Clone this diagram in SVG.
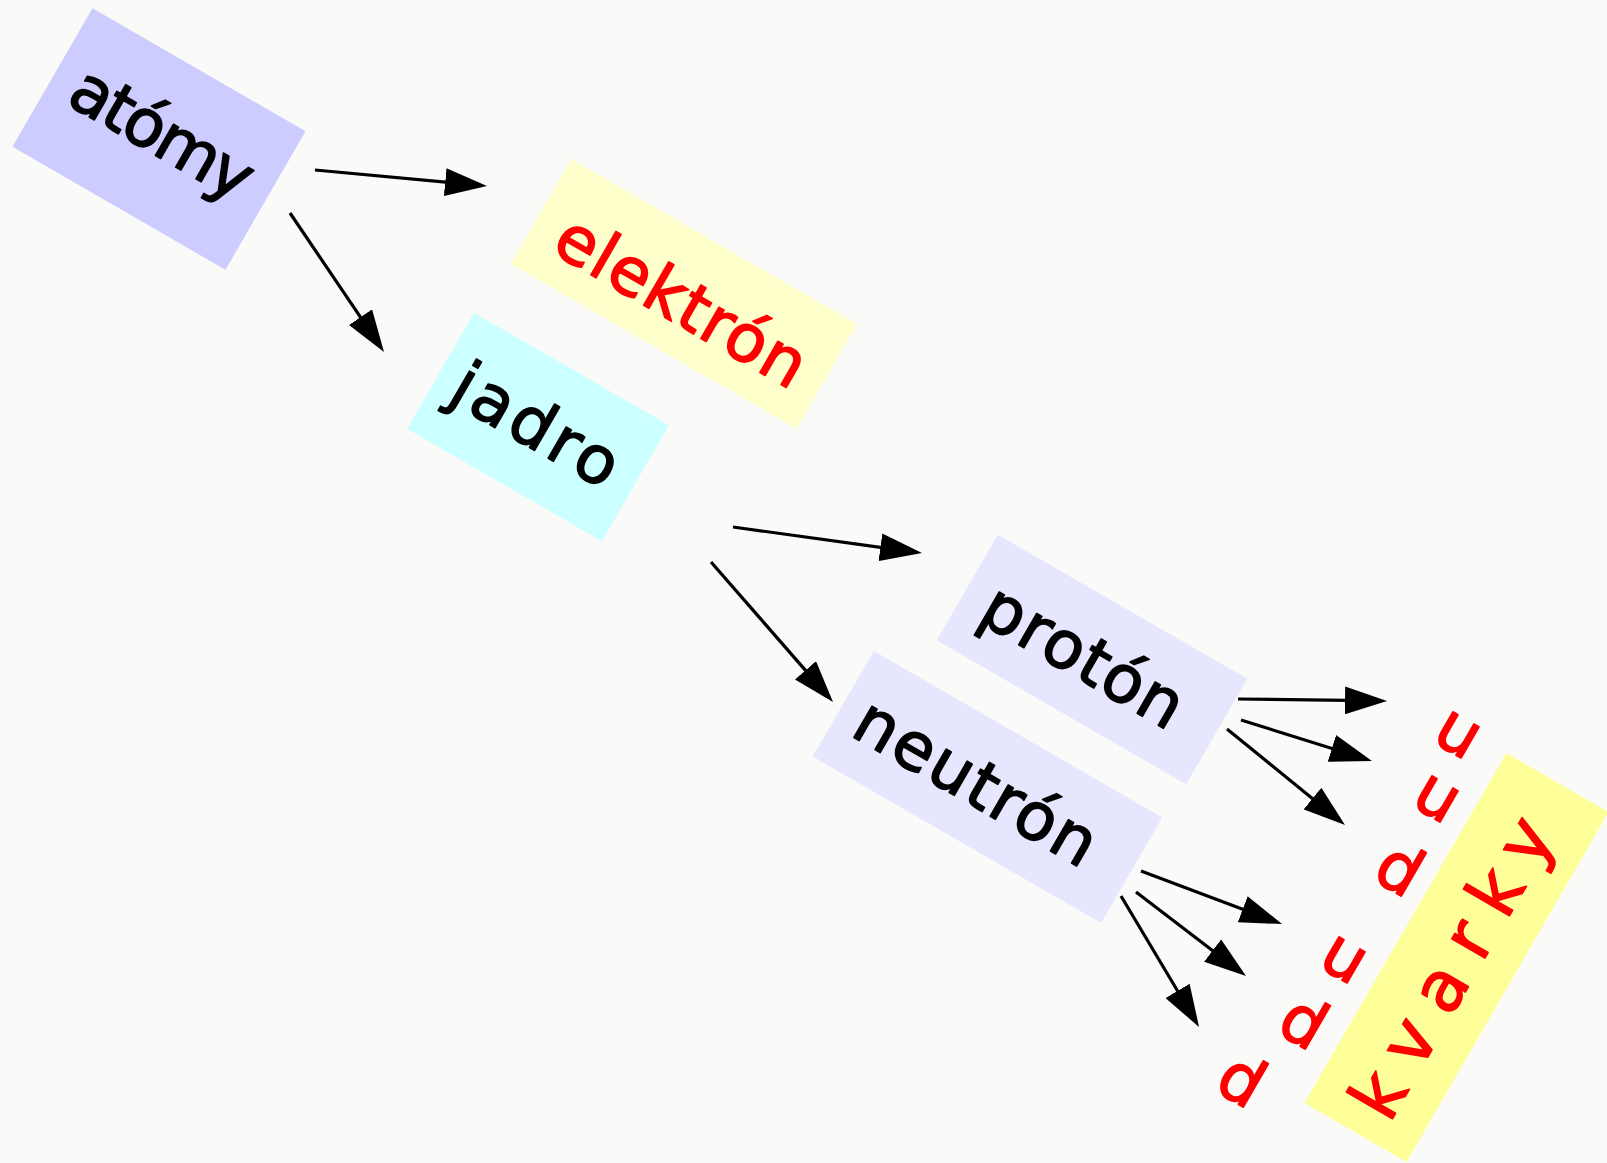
<svg xmlns="http://www.w3.org/2000/svg" width="1607" height="1163" viewBox="0 0 1607 1163">
<style>
.t{font-family:"DejaVu Sans",sans-serif;font-size:66px;text-anchor:middle;stroke-width:1.6;stroke-linejoin:round}
.k{fill:#000;stroke:#000}
.r{fill:#FF0000;stroke:#FF0000}
.q{font-family:"DejaVu Sans",sans-serif;font-size:66px;text-anchor:middle;fill:#FF0000;stroke:#FF0000;stroke-width:1.6;stroke-linejoin:round}
.c line{stroke:#000;stroke-width:3.2;marker-end:url(#ah)}
</style>
<defs>
<marker id="ah" markerWidth="42" markerHeight="28" refX="22" refY="14" orient="auto" markerUnits="userSpaceOnUse"><path d="M0,0 L42,14 L0,28 z" fill="#000"/></marker>
</defs>
<rect width="1607" height="1163" fill="#FAFAF8"/>
<g id="atomy" transform="translate(159,139) rotate(30)">
<rect x="-123" y="-80" width="246" height="160" fill="#CCCCFF"/>
<text class="t k" x="0" y="16" textLength="200">atómy</text>
</g>
<g id="elektron" transform="translate(684,294) rotate(30)">
<rect x="-165" y="-60.5" width="330" height="121" fill="#FFFFCC"/>
<text class="t r" x="1.5" y="30" textLength="279">elektrón</text>
</g>
<g id="jadro" transform="translate(538,427) rotate(30)">
<rect x="-112.5" y="-67" width="225" height="134" fill="#CCFFFF"/>
<text class="t k" x="-2.5" y="22" textLength="182">jadro</text>
</g>
<g id="proton" transform="translate(1092,659.5) rotate(30)">
<rect x="-144" y="-61" width="288" height="122" fill="#E6E6FF"/>
<text class="t k" x="-9" y="24" textLength="222">protón</text>
</g>
<g id="neutron" transform="translate(987.5,787) rotate(30)">
<rect x="-166.5" y="-61" width="333" height="122" fill="#E6E6FF"/>
<text class="t k" x="-12" y="24" textLength="269">neutrón</text>
</g>
<g id="kvarky" transform="translate(1456.5,957.5) rotate(-60)">
<rect x="-202" y="-59" width="404" height="118" fill="#FFFF99"/>
<text class="t r" style="font-size:70px" x="-11" y="25" textLength="334">kvarky</text>
</g>
<g id="quarks-proton">
<text class="q" transform="translate(1457,735) rotate(30)" x="0" y="18">u</text>
<text class="q" transform="translate(1436,799) rotate(30)" x="0" y="18">u</text>
<text class="q" transform="translate(1401,867) rotate(30)" x="0" y="25">d</text>
</g>
<g id="quarks-neutron">
<text class="q" transform="translate(1343,960) rotate(30)" x="0" y="18">u</text>
<text class="q" transform="translate(1305,1020) rotate(30)" x="0" y="25">d</text>
<text class="q" transform="translate(1243,1078) rotate(30)" x="0" y="25">d</text>
</g>
<g id="connectors" class="c">
<line x1="315" y1="170" x2="467.1" y2="184.1"/>
<line x1="290" y1="213" x2="372.8" y2="335.4"/>
<line x1="733" y1="527" x2="902.2" y2="550.3"/>
<line x1="711" y1="562" x2="819.9" y2="686.9"/>
<line x1="1238" y1="699" x2="1367" y2="700.7"/>
<line x1="1241" y1="720" x2="1352.9" y2="755"/>
<line x1="1227" y1="729" x2="1329.5" y2="812.4"/>
<line x1="1141" y1="871" x2="1263.3" y2="917"/>
<line x1="1136" y1="892" x2="1230.1" y2="963.9"/>
<line x1="1121" y1="896" x2="1188.8" y2="1009.8"/>
</g>
</svg>
